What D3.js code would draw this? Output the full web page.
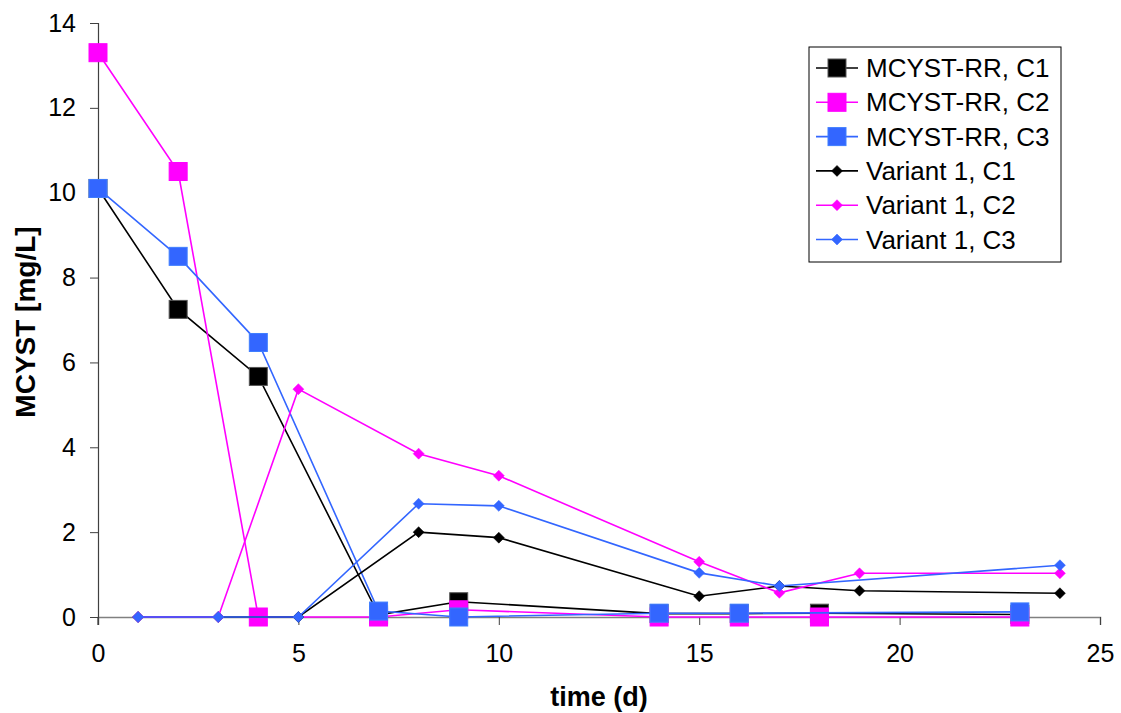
<!DOCTYPE html>
<html><head><meta charset="utf-8">
<script src="https://cdn.jsdelivr.net/npm/d3@7"></script>
<style>body{margin:0;background:#fff}svg{display:block}text{font-family:"Liberation Sans",Arial,sans-serif}</style>
</head><body><svg id="c" width="1121" height="713"></svg>
<script>
const rrTimes = [0, 2, 4, 7, 9, 14, 16, 18, 23];
const rrC1 = [10.1, 7.25, 5.67, 0.05, 0.36, 0.08, 0.08, 0.09, 0.06];
const rrC2 = [13.3, 10.5, 0, 0, 0.17, 0, 0, 0, 0];
const rrC3 = [10.1, 8.5, 6.47, 0.14, 0, 0.09, 0.09, null, 0.12];
const v1Times = [1, 3, 5, 8, 10, 15, 17, 19, 24];
const v1C1 = [0, 0, 0, 2.0, 1.87, 0.49, 0.73, 0.62, 0.56];
const v1C2 = [0, 0, 5.37, 3.85, 3.33, 1.30, 0.57, 1.03, 1.03];
const v1C3 = [0, 0, 0, 2.67, 2.62, 1.04, 0.73, null, 1.22];
const seriesNames = ["MCYST-RR, C1","MCYST-RR, C2","MCYST-RR, C3","Variant 1, C1","Variant 1, C2","Variant 1, C3"];
const xTicks = [0,5,10,15,20,25];
const yTicks = [0,2,4,6,8,10,12,14];

const colors = ["#000000","#FF00FF","#3366FF","#000000","#FF00FF","#3366FF"];
const series = [
  {name:seriesNames[0], t:rrTimes, v:rrC1, c:colors[0], m:"sq"},
  {name:seriesNames[1], t:rrTimes, v:rrC2, c:colors[1], m:"sq"},
  {name:seriesNames[2], t:rrTimes, v:rrC3, c:colors[2], m:"sq"},
  {name:seriesNames[3], t:v1Times, v:v1C1, c:colors[3], m:"di"},
  {name:seriesNames[4], t:v1Times, v:v1C2, c:colors[4], m:"di"},
  {name:seriesNames[5], t:v1Times, v:v1C3, c:colors[5], m:"di"}
];

const svg = d3.select("#c");
const x = d3.scaleLinear().domain([0,25]).range([98,1100]);
const y = d3.scaleLinear().domain([0,14]).range([617,23]);

// axes
const gx = svg.append("g").attr("transform","translate(0,617)")
  .call(d3.axisBottom(x).tickValues(xTicks).tickSize(8).tickPadding(19));
gx.select(".domain").attr("stroke","#808080").attr("stroke-width",1.5);
gx.selectAll(".tick line").attr("stroke","#404040");
gx.selectAll("text").attr("font-size",25).attr("fill","#000");

const gy = svg.append("g").attr("transform","translate(98,0)")
  .call(d3.axisLeft(y).tickValues(yTicks).tickSize(8).tickPadding(14));
gy.select(".domain").attr("stroke","#404040").attr("stroke-width",1.2);
gy.selectAll(".tick line").attr("stroke","#404040");
gy.selectAll("text").attr("font-size",25).attr("fill","#000");
// y axis extends slightly below x axis
svg.append("line").attr("x1",98).attr("x2",98).attr("y1",617).attr("y2",625).attr("stroke","#404040").attr("stroke-width",1.2);

svg.append("text").attr("x",599).attr("y",706).attr("text-anchor","middle")
  .attr("font-size",27).attr("font-weight","bold").text("time (d)");
svg.append("text").attr("transform","translate(35,322) rotate(-90)").attr("text-anchor","middle")
  .attr("font-size",28).attr("font-weight","bold").text("MCYST [mg/L]");

const line = d3.line().x(d=>x(d[0])).y(d=>y(d[1]));

function drawMarker(g, m, c, px, py){
  if(m==="sq"){
    g.append("rect").attr("x",px-9).attr("y",py-9).attr("width",18).attr("height",18)
      .attr("fill",c).attr("stroke",c==="#000000"?"#555":d3.color(c).brighter(0.6)).attr("stroke-width",1);
  } else {
    const r = 5.5;
    g.append("path").attr("d",`M${px},${py-r}L${px+r},${py}L${px},${py+r}L${px-r},${py}Z`)
      .attr("fill",c).attr("stroke",c).attr("stroke-width",0.5);
  }
}

series.forEach(s=>{
  const pts = s.t.map((t,i)=>[t,s.v[i]]).filter(d=>d[1]!==null);
  const g = svg.append("g");
  g.append("path").datum(pts).attr("d",line).attr("fill","none").attr("stroke",s.c).attr("stroke-width",1.6);
  pts.forEach(p=>drawMarker(g,s.m,s.c,x(p[0]),y(p[1])));
});

// legend
const lg = svg.append("g");
lg.append("rect").attr("x",809).attr("y",47).attr("width",252).attr("height",215)
  .attr("fill","#fff").attr("stroke","#000").attr("stroke-width",1);
series.forEach((s,i)=>{
  const yy = 68 + i*34.3;
  lg.append("line").attr("x1",816).attr("x2",858).attr("y1",yy).attr("y2",yy).attr("stroke",s.c).attr("stroke-width",1.6);
  drawMarker(lg,s.m,s.c,837,yy);
  lg.append("text").attr("x",866).attr("y",yy+9).attr("font-size",26).text(s.name);
});
</script></body></html>
